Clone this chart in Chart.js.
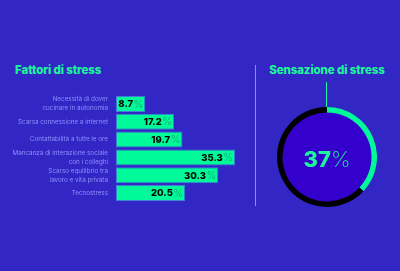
<!DOCTYPE html>
<html>
<head>
<meta charset="utf-8">
<script src="https://cdn.jsdelivr.net/npm/chart.js@4.4.1/dist/chart.umd.min.js"></script>
<style>
  html, body { margin:0; padding:0; width:400px; height:271px; overflow:hidden; background:#3226C4; }
  body { position:relative; font-family:"Inter","DejaVu Sans",sans-serif; }
  .title { position:absolute; color:#1DF59A; font-weight:800; font-size:11.5px; white-space:nowrap; letter-spacing:-0.1px; }
  #t1 { left:15px; top:63px; }
  #t2 { left:267px; top:63px; width:120px; text-align:center; }
  #divider { position:absolute; left:255px; top:65px; width:1px; height:141px; background:#8C8CF0; }
  #connector { position:absolute; left:326px; top:82px; width:1px; height:26px; background:#1DF59A; }
  #c1 { position:absolute; left:0; top:0; }
  #c2 { position:absolute; left:277px; top:107px; }
</style>
</head>
<body>
<div class="title" id="t1">Fattori di stress</div>
<div class="title" id="t2">Sensazione di stress</div>
<div id="divider"></div>
<div id="connector"></div>
<canvas id="c1" width="260" height="271"></canvas>
<canvas id="c2" width="100" height="100"></canvas>
<script>
const categories = [
  ["Necessità di dover", "cucinare in autonomia"],
  "Scarsa connessione a internet",
  "Contattabilità a tutte le ore",
  ["Mancanza di interazione sociale", "con i colleghi"],
  ["Scarso equilibrio tra", "lavoro e vita privata"],
  "Tecnostress"
];
const values = [8.7, 17.2, 19.7, 35.3, 30.3, 20.5];
const stressLabels = ["Sensazione di stress", "Resto"];
const stressValues = [37, 63];

const GREEN = "#00FA9A";

const barLabelPlugin = {
  id: "barLabels",
  afterDatasetsDraw(chart) {
    const ctx = chart.ctx;
    const meta = chart.getDatasetMeta(0);
    ctx.save();
    ctx.textBaseline = "middle";
    meta.data.forEach((bar, i) => {
      const v = values[i];
      const xEnd = bar.x - 2;
      const y = bar.y + 0.5;
      ctx.font = "300 10.5px Inter, sans-serif";
      ctx.fillStyle = "#0EA46C";
      ctx.textAlign = "right";
      ctx.fillText("%", xEnd, y);
      const pw = ctx.measureText("%").width;
      ctx.font = "800 9.5px Inter, sans-serif";
      ctx.fillStyle = "#000000";
      ctx.fillText(v.toFixed(1), xEnd - pw - 0.5, y);
    });
    ctx.restore();
  }
};

new Chart(document.getElementById("c1"), {
  type: "bar",
  data: {
    labels: categories,
    datasets: [{
      data: values,
      backgroundColor: GREEN,
      borderColor: "#3F7FD6",
      borderWidth: 1,
      borderSkipped: false,
      barPercentage: 0.9,
      categoryPercentage: 1.0
    }]
  },
  options: {
    indexAxis: "y",
    responsive: false,
    animation: false,
    events: [],
    layout: { padding: { top: 95, bottom: 69, left: 0, right: 9 } },
    plugins: { legend: { display: false }, tooltip: { enabled: false } },
    scales: {
      x: { display: false, min: 0, max: 40 },
      y: {
        grid: { display: false, drawTicks: false },
        border: { display: false },
        ticks: {
          autoSkip: false,
          color: "#8E90FF",
          font: { family: "Inter", size: 6.3, lineHeight: 1.4 },
          padding: 8
        },
        afterFit(scale) { scale.width = 116; }
      }
    }
  },
  plugins: [barLabelPlugin]
});

const donutCenterPlugin = {
  id: "donutCenter",
  beforeDatasetsDraw(chart) {
    const meta = chart.getDatasetMeta(0);
    const arc = meta.data[0];
    const ctx = chart.ctx;
    ctx.save();
    ctx.beginPath();
    ctx.arc(arc.x, arc.y, arc.innerRadius + 0.5, 0, Math.PI * 2);
    ctx.fillStyle = "#3300CC";
    ctx.fill();
    ctx.restore();
  },
  afterDatasetsDraw(chart) {
    const meta = chart.getDatasetMeta(0);
    const arc = meta.data[0];
    const ctx = chart.ctx;
    ctx.save();
    ctx.textBaseline = "alphabetic";
    const num = String(stressValues[0]);
    ctx.font = "800 22px Inter, sans-serif";
    const nw = ctx.measureText(num).width;
    ctx.font = "200 22px Inter, sans-serif";
    const pw = ctx.measureText("%").width;
    const start = arc.x - (nw + pw) / 2;
    const base = arc.y + 10;
    ctx.fillStyle = "#1DF59A";
    ctx.textAlign = "left";
    ctx.font = "800 22px Inter, sans-serif";
    ctx.fillText(num, start, base);
    ctx.font = "200 22px Inter, sans-serif";
    ctx.fillText("%", start + nw, base);
    ctx.restore();
  }
};

new Chart(document.getElementById("c2"), {
  type: "doughnut",
  data: {
    labels: stressLabels,
    datasets: [{
      data: stressValues,
      backgroundColor: [GREEN, "#000000"],
      borderWidth: 0
    }]
  },
  options: {
    responsive: false,
    animation: false,
    events: [],
    cutout: "89%",
    plugins: { legend: { display: false }, tooltip: { enabled: false } }
  },
  plugins: [donutCenterPlugin]
});
</script>
</body>
</html>
